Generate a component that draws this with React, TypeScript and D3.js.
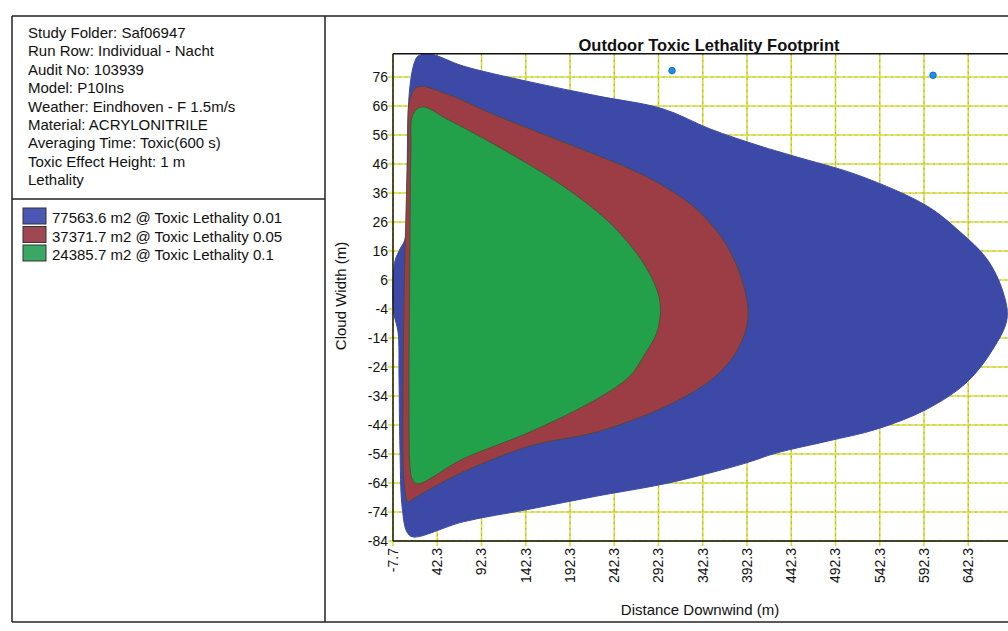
import React from 'react';
import * as d3 from 'd3';

// info box lines (top left)
const infoLines = [
  'Study Folder: Saf06947',
  'Run Row: Individual - Nacht',
  'Audit No: 103939',
  'Model: P10Ins',
  'Weather: Eindhoven - F 1.5m/s',
  'Material: ACRYLONITRILE',
  'Averaging Time: Toxic(600 s)',
  'Toxic Effect Height: 1 m',
  'Lethality',
];

const legendLabels = [
  '77563.6 m2 @ Toxic Lethality 0.01',
  '37371.7 m2 @ Toxic Lethality 0.05',
  '24385.7 m2 @ Toxic Lethality 0.1',
];
const legendColors = ['#4a58b4', '#a04852', '#3aa864'];
const fillColors = ['#3c49a6', '#9c3d46', '#22a04a'];

const xTicks = [-7.7, 42.3, 92.3, 142.3, 192.3, 242.3, 292.3, 342.3, 392.3, 442.3, 492.3, 542.3, 592.3, 642.3];
const yTicks = [76, 66, 56, 46, 36, 26, 16, 6, -4, -14, -24, -34, -44, -54, -64, -74, -84];

// footprint outlines, [downwind m, crosswind m]
const lethality001 = [
  [-2.0, -11.9], [-6.6, -5.7], [-7.7, 2.9], [-5.4, 12.6], [0.2, 16.7], [5.9, 20.1], [8.1, 40.8],
  [9.2, 61.5], [11.5, 72.9], [16.0, 80.5], [20.5, 83.2], [34.1, 83.9], [71.4, 79.8], [147.1, 74.3],
  [222.8, 69.5], [297.4, 65.0], [350.5, 58.1], [407.0, 52.2], [444.3, 48.8], [520.0, 41.9],
  [595.7, 31.5], [633.0, 22.6], [663.5, 13.2], [681.6, 1.9], [686.1, -7.4], [670.3, -17.8],
  [640.9, -29.2], [595.7, -38.5], [539.2, -45.4], [482.7, -49.6], [426.2, -53.6], [387.8, -57.4],
  [331.3, -62.0], [294.0, -64.6], [222.8, -68.5], [147.1, -73.0], [71.4, -77.4], [14.9, -82.6],
  [8.1, -80.9], [2.5, -71.9], [0.2, -52.3], [-0.9, -28.1],
];
const lethality005 = [
  [11.5, 68.4], [20.5, 72.6], [53.3, 70.1], [109.8, 62.6], [184.4, 53.6], [260.1, 44.3],
  [299.6, 38.1], [331.3, 31.5], [356.1, 23.6], [369.7, 17.7], [384.4, 8.1], [393.4, -4.0],
  [391.2, -10.9], [378.7, -19.5], [356.1, -27.4], [331.3, -32.6], [294.0, -38.5], [222.8, -46.4],
  [147.1, -51.2], [71.4, -60.2], [34.1, -66.1], [14.9, -69.5], [9.2, -70.5], [4.7, -62.6],
  [3.6, -35.0], [5.9, 16.7], [9.2, 51.2],
];
const lethality01 = [
  [14.9, 63.2], [25.1, 65.7], [53.3, 61.5], [109.8, 52.2], [184.4, 38.4], [240.9, 24.6],
  [279.3, 9.8], [294.0, -1.6], [290.6, -11.9], [277.0, -19.5], [260.1, -27.1], [222.8, -35.0],
  [147.1, -46.4], [71.4, -55.7], [19.4, -64.3], [13.8, -62.6], [11.5, -58.1], [10.4, -35.0],
  [11.5, 16.7], [12.6, 51.2],
];
const footprints = [lethality001, lethality005, lethality01];

// small markers on the top grid line
const markers = [[307.6, 78.2], [602.5, 76.6]];

const font = '"Liberation Sans", Arial, sans-serif';

export default function App() {
  const W = 1008;
  const H = 631;
  const x = d3.scaleLinear().domain([-7.7, 692.3]).range([393, 393 + 700 * 0.885]);
  const y = d3.scaleLinear().domain([-84, 84]).range([541, 541 - 168 * 2.9]);
  const line = d3
    .line<number[]>()
    .x((d) => x(d[0]))
    .y((d) => y(d[1]))
    .curve(d3.curveCatmullRomClosed.alpha(0.5));

  const left = x(-7.7);
  const right = W;
  const top = y(84);
  const bottom = y(-84);

  return (
    <svg width={W} height={H} style={{ position: 'absolute', left: 0, top: 0, background: '#fff' }} fontFamily={font}>
      {/* panel frames */}
      <line x1={12} y1={16} x2={W} y2={16} stroke="#222" strokeWidth={1.5} />
      <line x1={12} y1={16} x2={12} y2={622} stroke="#222" strokeWidth={1.5} />
      <line x1={325} y1={16} x2={325} y2={622} stroke="#222" strokeWidth={1.5} />
      <line x1={12} y1={199} x2={325} y2={199} stroke="#222" strokeWidth={1.5} />
      <line x1={12} y1={622} x2={W} y2={622} stroke="#222" strokeWidth={1.5} />

      {infoLines.map((t, i) => (
        <text key={t} x={28} y={38 + i * 18.4} fontSize={15} fill="#111">
          {t}
        </text>
      ))}

      {legendLabels.map((t, i) => (
        <g key={t}>
          <rect x={23} y={208 + i * 18.5} width={23} height={16} fill={legendColors[i]} stroke="#333" strokeWidth={1} />
          <text x={52} y={223 + i * 18.5} fontSize={15} fill="#111">
            {t}
          </text>
        </g>
      ))}

      <text x={709} y={51} fontSize={16.5} fontWeight="bold" textAnchor="middle" fill="#111">
        Outdoor Toxic Lethality Footprint
      </text>

      {/* grid */}
      {yTicks.map((t) => (
        <g key={'gy' + t}>
          <line x1={left - 5} x2={right} y1={y(t)} y2={y(t)} stroke="#d9e030" strokeWidth={1.6} />
          <line x1={left} x2={right} y1={y(t)} y2={y(t)} stroke="#888" strokeWidth={0.5} strokeDasharray="2,4" />
        </g>
      ))}
      {xTicks.map((t) => (
        <g key={'gx' + t}>
          <line x1={x(t)} x2={x(t)} y1={top} y2={bottom + 5} stroke="#d9e030" strokeWidth={1.6} />
          <line x1={x(t)} x2={x(t)} y1={top} y2={bottom + 5} stroke="#777" strokeWidth={0.5} strokeDasharray="2,4" />
        </g>
      ))}

      {/* footprints */}
      {footprints.map((pts, i) => (
        <path
          key={i}
          d={line(pts) || ''}
          fill={fillColors[i]}
          stroke={i === 0 ? fillColors[0] : '#4a4a30'}
          strokeWidth={i === 0 ? 1 : 0.8}
        />
      ))}

      {markers.map((m, i) => (
        <circle key={i} cx={x(m[0])} cy={y(m[1])} r={3.3} fill="#1e8fe8" stroke="#0d5fb0" strokeWidth={0.8} />
      ))}

      {/* frame */}
      <line x1={left} x2={right} y1={top} y2={top} stroke="#111" strokeWidth={1.4} />
      <line x1={left} x2={left} y1={top} y2={bottom} stroke="#111" strokeWidth={1.4} />
      <line x1={left} x2={right} y1={bottom} y2={bottom} stroke="#111" strokeWidth={1.4} />

      {yTicks.map((t) => (
        <text key={'ly' + t} x={left - 5} y={y(t)} dy="0.35em" fontSize={14} textAnchor="end" fill="#111">
          {t}
        </text>
      ))}
      {xTicks.map((t) => (
        <text
          key={'lx' + t}
          transform={`translate(${x(t)},${bottom + 7}) rotate(-90)`}
          dy="0.35em"
          fontSize={14}
          textAnchor="end"
          fill="#111"
        >
          {t}
        </text>
      ))}

      <text transform={`translate(341,296) rotate(-90)`} dy="0.35em" fontSize={15} textAnchor="middle" fill="#111">
        Cloud Width (m)
      </text>
      <text x={700} y={615} fontSize={15} textAnchor="middle" fill="#111">
        Distance Downwind (m)
      </text>
    </svg>
  );
}
